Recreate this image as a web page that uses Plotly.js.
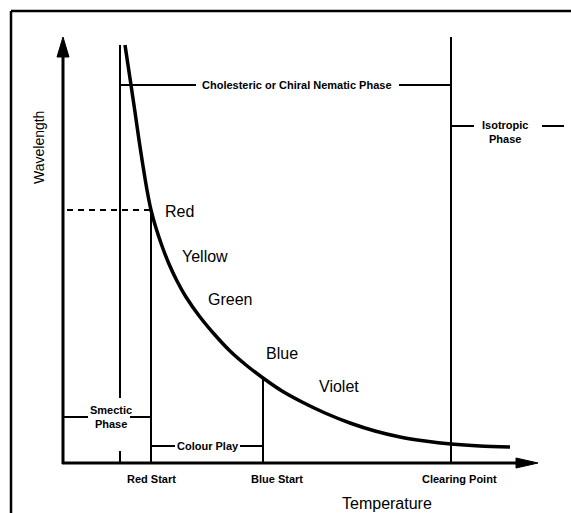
<!DOCTYPE html>
<html>
<head>
<meta charset="utf-8">
<script src="https://cdn.plot.ly/plotly-3.0.1.min.js"></script>
<style>html,body{margin:0;padding:0;background:#fff;}#chart{width:571px;height:513px;}</style>
</head>
<body>
<div id="chart"></div>
<script>
// ---- data (arbitrary schematic units) ----
const temperature = [62,68,72,76,80,84,88,93,99,106,114,123,137,152,167,183,200,219,239,262,287,312,337,362,388,417,447];
const wavelength  = [418,378,351,323,297,273,253,235,217,199,182,166,146,128,112,98,85,72,61,50,40,32,26,22,19,17,16];

const markerNames = ['Red Start','Blue Start','Clearing Point'];
const markerTemps = [88,200,388];
const smecticTemp = 57;

const colourNames = ['Red','Yellow','Green','Blue','Violet'];

// ---- helpers ----
function interp(t){
  for(let i=0;i<temperature.length-1;i++){
    if(t>=temperature[i] && t<=temperature[i+1]){
      const f=(t-temperature[i])/(temperature[i+1]-temperature[i]);
      return wavelength[i]+f*(wavelength[i+1]-wavelength[i]);
    }
  }
  return wavelength[wavelength.length-1];
}
const redStart = markerTemps[0], blueStart = markerTemps[1], clearing = markerTemps[2];
const redW = interp(redStart), blueW = interp(blueStart);

// ---- layout positions (not data) ----
const colourLabelX = [116,142,167,219,276];
const colourLabelY = [252,207,164,110,77];
const markerLabelX = [88,214,396];
const topY = 426;       // top of axes / arrow tips
const xTip = 475;

const black = '#000';
function seg(x0,y0,x1,y1,w,dash){
  return {type:'line',xref:'x',yref:'y',x0:x0,y0:y0,x1:x1,y1:y1,
          line:{color:black,width:w,dash:dash||'solid'}};
}
const shapes = [
  // outer frame (left + top)
  {type:'line',xref:'paper',yref:'paper',x0:11/571,x1:11/571,y0:0,y1:1-11/513,line:{color:black,width:2.5}},
  {type:'line',xref:'paper',yref:'paper',x0:11/571,x1:1,y0:1-11/513,y1:1-11/513,line:{color:black,width:2.5}},
  // axes
  seg(0,-1,0,406,3),
  {type:'path',xref:'x',yref:'y',path:'M -6,406 L 0,'+topY+' L 6,406 Z',fillcolor:black,line:{color:black,width:1}},
  seg(-1,0,453,0,3),
  {type:'path',xref:'x',yref:'y',path:'M 453,5 L '+xTip+',0 L 453,-5 Z',fillcolor:black,line:{color:black,width:1}},
  // smectic boundary
  seg(smecticTemp,418,smecticTemp,65,2),
  seg(smecticTemp,12,smecticTemp,0,2),
  seg(0,46,25,46,2),
  seg(67,46,redStart,46,2),
  // red start / blue start / clearing point
  seg(redStart,0,redStart,redW,2),
  seg(4,redW,redStart,redW,2,'6px,5px'),
  seg(blueStart,0,blueStart,blueW,2),
  seg(clearing,0,clearing,topY,2),
  // colour play
  seg(redStart,17,112,17,2),
  seg(177,17,blueStart,17,2),
  // cholesteric
  seg(smecticTemp,378,133,378,2),
  seg(336,378,clearing,378,2),
  // isotropic
  seg(clearing,337,411,337,2),
  seg(479,337,501,337,2)
];

const bold = {family:'Liberation Sans, Arial, sans-serif',size:11,color:black,weight:'bold'};
const reg = {family:'Liberation Sans, Arial, sans-serif',size:16,color:black};
function txt(x,y,t,font,extra){
  return Object.assign({xref:'x',yref:'y',x:x,y:y,text:t,showarrow:false,font:font,
    xanchor:'center',yanchor:'middle'},extra||{});
}
const annotations = [
  txt(233.5,378,'<b>Cholesteric or Chiral Nematic Phase</b>',bold),
  txt(442,331,'<b>Isotropic<br>Phase</b>',bold),
  txt(48,46,'<b>Smectic<br>Phase</b>',bold),
  txt(145,17,'<b>Colour Play</b>',bold),
  txt(323.5,-40,'Temperature',reg),
  txt(-24,315,'Wavelength',Object.assign({},reg,{size:14}),{textangle:-90})
];
markerNames.forEach((n,i)=>annotations.push(txt(markerLabelX[i],-16,'<b>'+n+'</b>',bold)));
colourNames.forEach((n,i)=>annotations.push(txt(colourLabelX[i],colourLabelY[i],n,reg)));

const trace = {x:temperature,y:wavelength,type:'scatter',mode:'lines',
  line:{color:black,width:3.5,shape:'spline',smoothing:0.8},hoverinfo:'skip'};

const layout = {
  width:571,height:513,margin:{l:0,r:0,t:0,b:0},
  paper_bgcolor:'#fff',plot_bgcolor:'#fff',showlegend:false,
  xaxis:{range:[-63,508],visible:false,fixedrange:true},
  yaxis:{range:[-50,463],visible:false,fixedrange:true},
  shapes:shapes,annotations:annotations
};
Plotly.newPlot('chart',[trace],layout,{staticPlot:true,displayModeBar:false});
</script>
</body>
</html>
